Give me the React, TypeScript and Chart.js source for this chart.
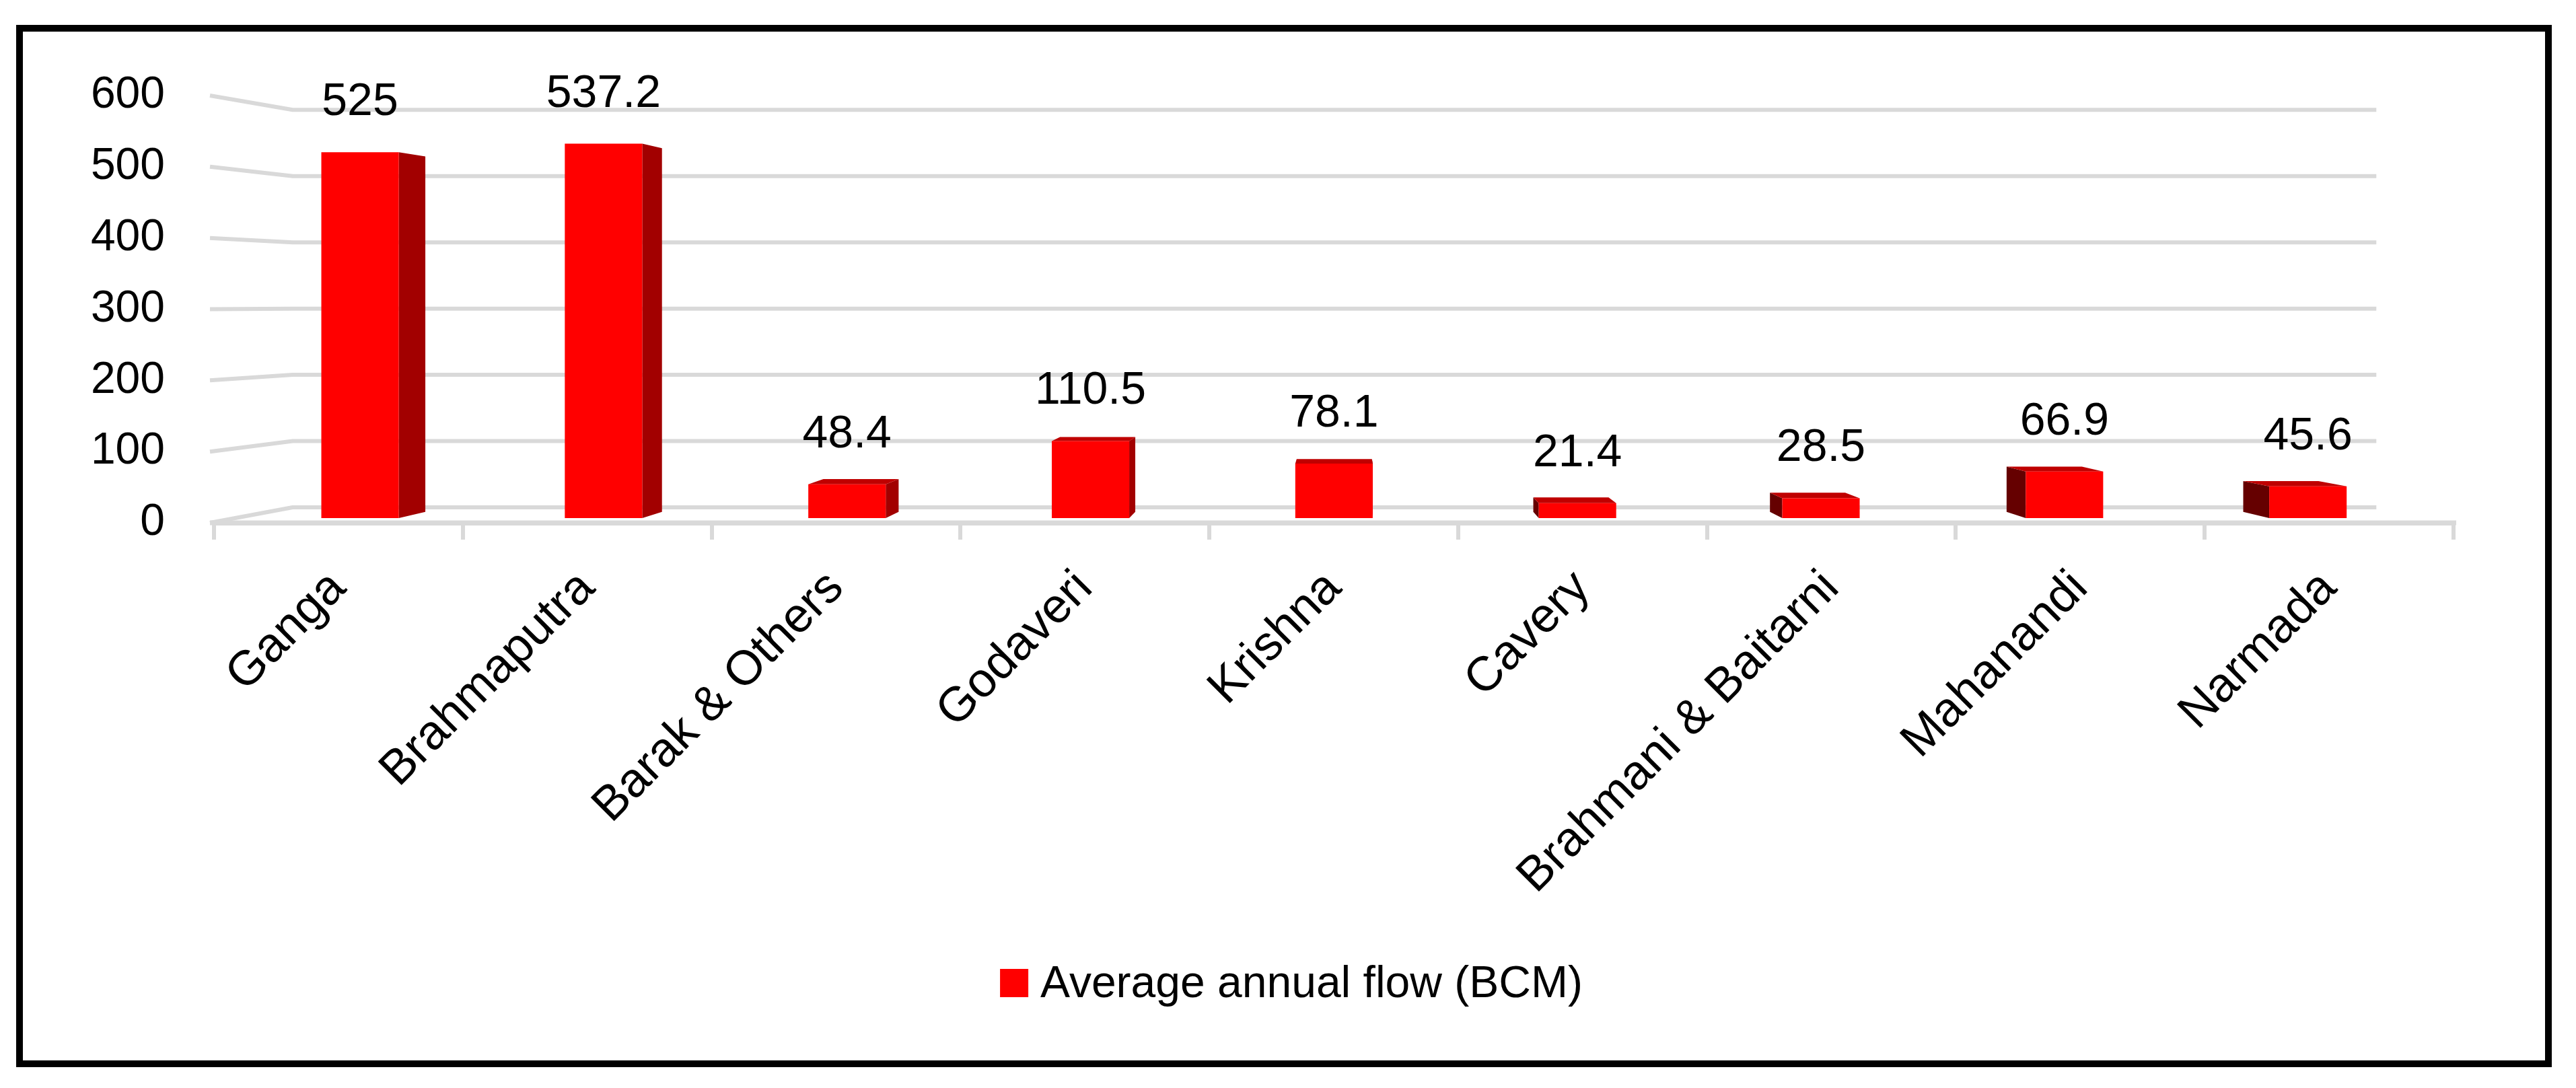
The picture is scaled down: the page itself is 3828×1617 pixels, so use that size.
import React, { useEffect, useRef } from "react";
import { Chart, registerables } from "chart.js";

Chart.register(...registerables);

// ---- data ----
const categories = [
  "Ganga",
  "Brahmaputra",
  "Barak & Others",
  "Godaveri",
  "Krishna",
  "Cavery",
  "Brahmani & Baitarni",
  "Mahanandi",
  "Narmada",
];
const flowValues = [525, 537.2, 48.4, 110.5, 78.1, 21.4, 28.5, 66.9, 45.6];
const seriesLabel = "Average annual flow (BCM)";
const yTickValues = [0, 100, 200, 300, 400, 500, 600];

// ---- styling / pseudo-3D projection ----
const FONT = "'Liberation Sans', Arial, sans-serif";
const GRID = "#D9D9D9";
const VP_X_FRAC = 0.5048; // vanishing point, fraction of plot width
const VP_VALUE = 311.8; // vanishing point height, in axis units
const WALL = 0.9304; // depth factor of the back wall
const FRONT = 0.9785; // depth factor of bar front faces
const BACK = 0.951; // depth factor of bar back faces

function vp(chart: any) {
  const a = chart.chartArea;
  return {
    vx: a.left + (a.right - a.left) * VP_X_FRAC,
    vy: chart.scales.y.getPixelForValue(VP_VALUE),
  };
}

const threeD = {
  id: "threeD",
  beforeDatasetsDraw(chart: any) {
    const { ctx, chartArea } = chart;
    const y = chart.scales.y;
    const { vx, vy } = vp(chart);
    const P = (f: number, px: number, py: number) => [vx + f * (px - vx), vy + f * (py - vy)];
    ctx.save();
    // walls: side-wall diagonals + back-wall gridlines
    ctx.strokeStyle = GRID;
    ctx.lineWidth = 6;
    ctx.lineJoin = "round";
    for (const v of yTickValues) {
      const py = y.getPixelForValue(v);
      const b1 = P(WALL, chartArea.left, py);
      const b2 = P(WALL, chartArea.right, py);
      ctx.beginPath();
      ctx.moveTo(chartArea.left - 6, py);
      ctx.lineTo(b1[0], b1[1]);
      ctx.lineTo(b2[0], b2[1]);
      ctx.stroke();
    }
    // extend floor front edge slightly
    ctx.lineWidth = 7;
    ctx.beginPath();
    const y0 = y.getPixelForValue(0);
    ctx.moveTo(chartArea.left - 6, y0);
    ctx.lineTo(chartArea.right + 4, y0);
    ctx.stroke();

    // bar side and top faces
    const meta = chart.getDatasetMeta(0);
    const poly = (pts: number[][], color: string) => {
      ctx.beginPath();
      ctx.moveTo(pts[0][0], pts[0][1]);
      for (let i = 1; i < pts.length; i++) ctx.lineTo(pts[i][0], pts[i][1]);
      ctx.closePath();
      ctx.fillStyle = color;
      ctx.fill();
    };
    meta.data.forEach((el: any) => {
      const L = el.x - el.width / 2;
      const R = el.x + el.width / 2;
      const T = el.y;
      const B = el.base;
      const fTL = P(FRONT, L, T), fTR = P(FRONT, R, T), fBL = P(FRONT, L, B), fBR = P(FRONT, R, B);
      const bTL = P(BACK, L, T), bTR = P(BACK, R, T), bBL = P(BACK, L, B), bBR = P(BACK, R, B);
      if (el.x > vx) poly([fTL, bTL, bBL, fBL], "#650000");
      else poly([fTR, bTR, bBR, fBR], "#A20000");
      if (T > vy) poly([fTL, fTR, bTR, bTL], "#BF0000");
    });
    ctx.restore();
  },
  beforeDatasetDraw(chart: any) {
    const { ctx } = chart;
    const { vx, vy } = vp(chart);
    ctx.save();
    ctx.translate(vx, vy);
    ctx.scale(FRONT, FRONT);
    ctx.translate(-vx, -vy);
  },
  afterDatasetDraw(chart: any) {
    chart.ctx.restore();
  },
  afterDatasetsDraw(chart: any) {
    const { ctx } = chart;
    const { vx, vy } = vp(chart);
    const meta = chart.getDatasetMeta(0);
    const data = chart.data.datasets[0].data;
    ctx.save();
    ctx.fillStyle = "#000";
    ctx.font = `68px ${FONT}`;
    ctx.textAlign = "center";
    ctx.textBaseline = "alphabetic";
    meta.data.forEach((el: any, i: number) => {
      const x = vx + FRONT * (el.x - vx);
      const top = vy + FRONT * (el.y - vy);
      ctx.fillText(String(data[i]), x, top - 55);
    });
    ctx.restore();
  },
  afterDraw(chart: any) {
    const { ctx } = chart;
    ctx.save();
    // legend
    const label = chart.data.datasets[0].label;
    const color = chart.data.datasets[0].backgroundColor;
    ctx.font = `66px ${FONT}`;
    const tw = ctx.measureText(label).width;
    const box = 42, gap = 18;
    const total = box + gap + tw;
    const cx = 1919;
    const x0 = cx - total / 2;
    const base = 1482;
    ctx.fillStyle = color;
    ctx.fillRect(x0, base - box, box, box);
    ctx.fillStyle = "#000";
    ctx.textAlign = "left";
    ctx.textBaseline = "alphabetic";
    ctx.fillText(label, x0 + box + gap, base);
    // outer frame
    ctx.strokeStyle = "#000";
    ctx.lineWidth = 10;
    ctx.strokeRect(29, 42, 3758, 1539);
    ctx.restore();
  },
};

export default function App() {
  const ref = useRef<HTMLCanvasElement | null>(null);
  useEffect(() => {
    if (!ref.current) return;
    const chart = new Chart(ref.current, {
      type: "bar",
      data: {
        labels: categories,
        datasets: [
          {
            label: seriesLabel,
            data: flowValues,
            backgroundColor: "#FF0000",
            borderWidth: 0,
            barPercentage: 0.318,
            categoryPercentage: 1,
          },
        ],
      },
      options: {
        animation: false,
        responsive: false,
        maintainAspectRatio: false,
        devicePixelRatio: 1,
        layout: { padding: { top: 142, right: 182, bottom: 0, left: 0 } },
        plugins: { legend: { display: false }, tooltip: { enabled: false } },
        scales: {
          x: {
            type: "category",
            offset: true,
            grid: {
              display: true,
              offset: true,
              drawOnChartArea: false,
              drawTicks: true,
              tickLength: 25,
              color: GRID,
              lineWidth: 6,
            },
            border: { display: true, color: GRID, width: 7 },
            ticks: {
              font: { family: FONT, size: 72 },
              color: "#000",
              minRotation: 45,
              maxRotation: 45,
              autoSkip: false,
              padding: 30,
            },
            afterFit: (s: any) => {
              s.height = 840;
            },
          },
          y: {
            min: 0,
            max: 600,
            afterBuildTicks: (s: any) => {
              s.ticks = yTickValues.map((v) => ({ value: v }));
            },
            grid: { display: false, drawTicks: false },
            border: { display: false },
            ticks: {
              font: { family: FONT, size: 66 },
              color: "#000",
              padding: 73,
            },
            afterFit: (s: any) => {
              s.width = 318;
            },
          },
        },
      },
      plugins: [threeD],
    });
    return () => chart.destroy();
  }, []);
  return (
    <div style={{ position: "fixed", left: 0, top: 0, width: 3828, height: 1617, background: "#fff" }}>
      <canvas
        ref={ref}
        width={3828}
        height={1617}
        style={{ display: "block", width: "3828px", height: "1617px" }}
      />
    </div>
  );
}
